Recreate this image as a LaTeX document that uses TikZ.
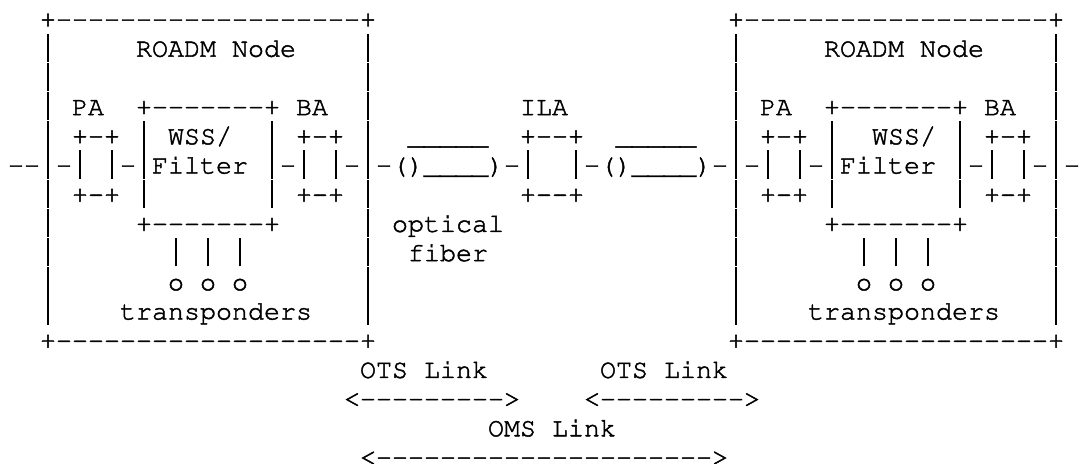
\documentclass[tikz,border=0pt]{standalone}
\usepackage[T1,TU]{fontenc}

% Courier-style monospace grid: 16pt per column, 29.2pt per row
\newcommand\asciifont{\fontencoding{T1}\fontfamily{pcr}\fontseries{m}\fontshape{n}\fontsize{26.67pt}{29.2pt}\selectfont}
\newcommand\hy{-\kern0pt}
\newcommand\vb{\makebox[16pt]{\rule[-5.2pt]{1.5pt}{28.4pt}}}
\newcommand\dashes[1]{\foreach\k in {1,...,#1}{-\kern0pt}}
% slightly heavier glyphs: fill and stroke the outlines
\newcommand\heavy[1]{\special{pdf:literal 2 Tr 0.45 w}#1\special{pdf:literal 0 Tr}}
% \glyphs{name}{column}{row}{text}
\newcommand\glyphs[4]{\node[txt] (#1) at ({8+16*#2},{-27.5-29.2*#3}) {\heavy{#4}};}

\tikzset{txt/.style={anchor=base west, inner sep=0pt, outer sep=0pt, font=\asciifont, text=black}}

\begin{document}
\begin{tikzpicture}[x=1pt,y=1pt]
\fill[white] (0,0) rectangle (1083,-463);
\useasboundingbox (0,0) rectangle (1083,-463);

% ROADM node frames
\glyphs{Ltop}{2}{0}{+\dashes{19}+}
\glyphs{Rtop}{45}{0}{+\dashes{19}+}
\glyphs{Lbot}{2}{11}{+\dashes{19}+}
\glyphs{Rbot}{45}{11}{+\dashes{19}+}
\foreach \r in {1,2,3,4,6,7,8,9,10}{
  \glyphs{LbarA-\r}{2}{\r}{\vb}
  \glyphs{LbarB-\r}{22}{\r}{\vb}
  \glyphs{RbarA-\r}{45}{\r}{\vb}
  \glyphs{RbarB-\r}{65}{\r}{\vb}
}

% titles
\glyphs{Ltitle}{8}{1}{ROADM}
\glyphs{Ltitle2}{14}{1}{Node}
\glyphs{Rtitle}{51}{1}{ROADM}
\glyphs{Rtitle2}{57}{1}{Node}

% amplifier labels and WSS frames
\glyphs{LPA}{4}{3}{PA}
\glyphs{LWtop}{8}{3}{+\dashes{7}+}
\glyphs{LBA}{18}{3}{BA}
\glyphs{ILA}{32}{3}{ILA}
\glyphs{RPA}{47}{3}{PA}
\glyphs{RWtop}{51}{3}{+\dashes{7}+}
\glyphs{RBA}{61}{3}{BA}

% upper edges of amplifiers, fibers
\glyphs{LPAtop}{4}{4}{+\hy+}
\glyphs{LW4a}{8}{4}{\vb}
\glyphs{LWSS}{10}{4}{WSS/}
\glyphs{LW4b}{16}{4}{\vb}
\glyphs{LBAtop}{18}{4}{+\hy+}
\glyphs{F1top}{25}{4}{\_\_\_\_\_}
\glyphs{ILAtop}{32}{4}{+\hy\hy+}
\glyphs{F2top}{38}{4}{\_\_\_\_\_}
\glyphs{RPAtop}{47}{4}{+\hy+}
\glyphs{RW4a}{51}{4}{\vb}
\glyphs{RWSS}{54}{4}{WSS/}
\glyphs{RW4b}{59}{4}{\vb}
\glyphs{RBAtop}{61}{4}{+\hy+}

% signal path
\glyphs{path0}{0}{5}{\hy\hy\vb\hy\vb}
\glyphs{path6}{6}{5}{\vb\hy\vb Filter}
\glyphs{path16}{16}{5}{\vb\hy\vb}
\glyphs{path20}{20}{5}{\vb\hy\vb\hy()\_\_\_\_)\hy\vb}
\glyphs{path35}{35}{5}{\vb\hy()\_\_\_\_)\hy\vb\hy\vb}
\glyphs{path49}{49}{5}{\vb\hy\vb Filter}
\glyphs{path59}{59}{5}{\vb\hy\vb}
\glyphs{path63}{63}{5}{\vb\hy\vb\hy}

% lower edges of amplifiers
\glyphs{LPAbot}{4}{6}{+\hy+}
\glyphs{LW6a}{8}{6}{\vb}
\glyphs{LW6b}{16}{6}{\vb}
\glyphs{LBAbot}{18}{6}{+\hy+}
\glyphs{ILAbot}{32}{6}{+\hy\hy+}
\glyphs{RPAbot}{47}{6}{+\hy+}
\glyphs{RW6a}{51}{6}{\vb}
\glyphs{RW6b}{59}{6}{\vb}
\glyphs{RBAbot}{61}{6}{+\hy+}

% WSS bottoms and fiber label
\glyphs{LWbot}{8}{7}{+\dashes{7}+}
\glyphs{optical}{24}{7}{optical}
\glyphs{RWbot}{51}{7}{+\dashes{7}+}
\glyphs{fiber}{25}{8}{fiber}

% transponders
\foreach \c in {10,12,14,53,55,57}{
  \glyphs{drop-\c}{\c}{8}{\vb}
  \glyphs{trx-\c}{\c}{9}{o}
}
\glyphs{Ltrx}{7}{10}{transponders}
\glyphs{Rtrx}{50}{10}{transponders}

% link spans
\glyphs{ots1}{22}{12}{OTS}
\glyphs{ots1b}{26}{12}{Link}
\glyphs{ots2}{37}{12}{OTS}
\glyphs{ots2b}{41}{12}{Link}
\glyphs{ots1arrow}{21}{13}{<\dashes{9}>}
\glyphs{ots2arrow}{36}{13}{<\dashes{9}>}
\glyphs{oms}{30}{14}{OMS}
\glyphs{omsb}{34}{14}{Link}
\glyphs{omsarrow}{22}{15}{<\dashes{21}>}
\end{tikzpicture}
\end{document}
